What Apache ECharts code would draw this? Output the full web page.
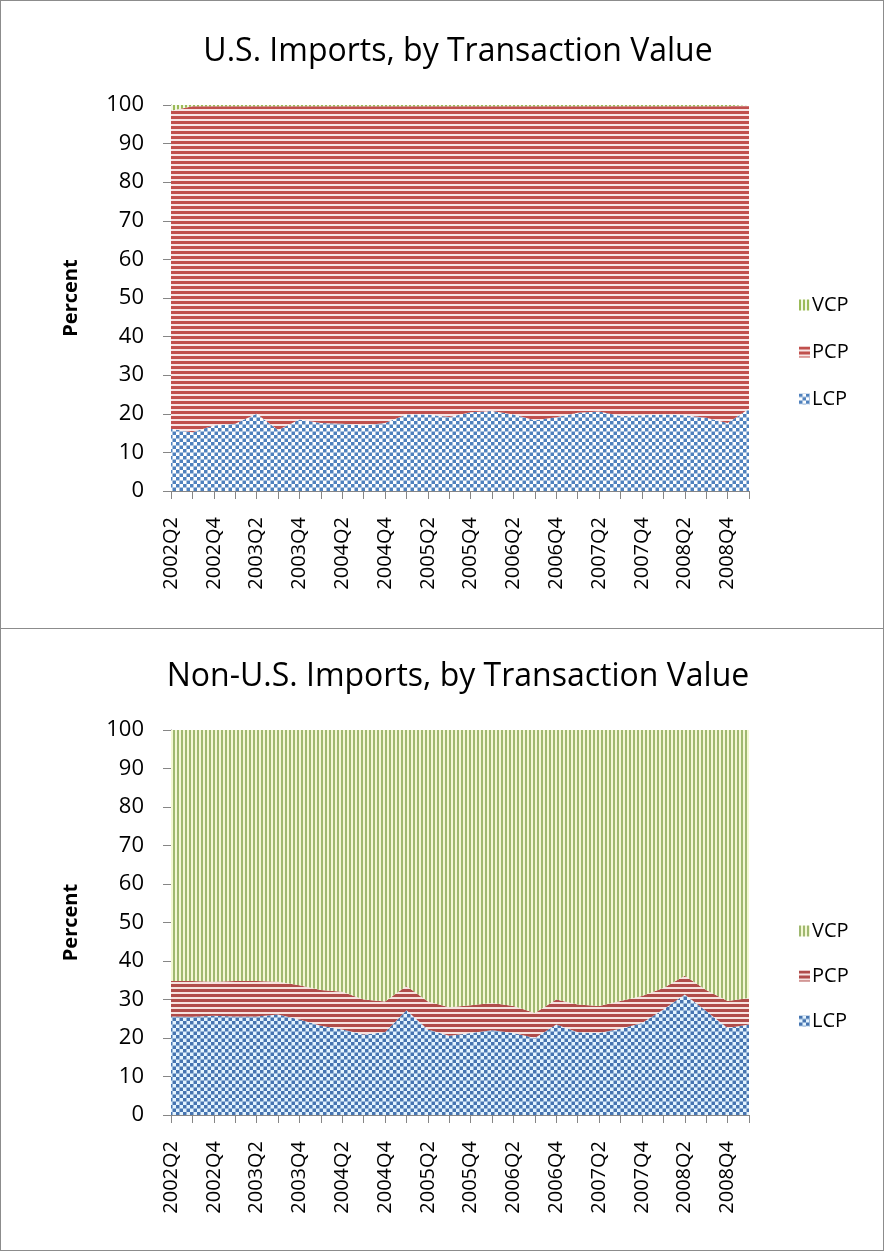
<!DOCTYPE html>
<html lang="en">
<head>
    <meta charset="UTF-8">
    <title>Imports, by Transaction Value</title>
    <script src="https://cdn.jsdelivr.net/npm/echarts@6/dist/echarts.min.js"></script>
    <style>
        html, body { margin: 0; padding: 0; background: #fff; }
        .box { position: absolute; left: 0; width: 884px; border: 1px solid #8c8c8c; box-sizing: border-box; }
        .box > div { width: 100%; height: 100%; }
        #usBox { top: 0; height: 629px; }
        #nonUsBox { top: 628px; height: 623px; }
    </style>
</head>
<body>
    <div class="box" id="usBox"><div id="usChart"></div></div>
    <div class="box" id="nonUsBox"><div id="nonUsChart"></div></div>

<script>
    // quarters 2002Q2 .. 2009Q1
    var quarters = ['2002Q2', '2002Q3', '2002Q4', '2003Q1', '2003Q2', '2003Q3', '2003Q4',
        '2004Q1', '2004Q2', '2004Q3', '2004Q4', '2005Q1', '2005Q2', '2005Q3', '2005Q4',
        '2006Q1', '2006Q2', '2006Q3', '2006Q4', '2007Q1', '2007Q2', '2007Q3', '2007Q4',
        '2008Q1', '2008Q2', '2008Q3', '2008Q4', '2009Q1'];
    var yTicks = [0, 10, 20, 30, 40, 50, 60, 70, 80, 90, 100];

    // U.S. imports (percent)
    var usLCP = [16.1, 15.2, 17.0, 17.4, 20.0, 15.8, 18.5, 17.6, 17.4, 17.0, 17.6, 19.8, 19.8, 19.2,
        20.4, 20.7, 19.8, 18.3, 19.1, 20.3, 20.6, 19.4, 19.6, 19.8, 19.6, 19.0, 17.6, 21.3];
    var usPCP = [82.4, 84.5, 82.7, 82.3, 79.7, 83.9, 81.2, 82.1, 82.3, 82.7, 82.1, 79.9, 79.9, 80.5,
        79.3, 79.0, 79.9, 81.4, 80.6, 79.4, 79.1, 80.3, 80.1, 79.9, 80.1, 80.7, 82.1, 78.4];
    var usVCP = [1.5, 0.3, 0.3, 0.3, 0.3, 0.3, 0.3, 0.3, 0.3, 0.3, 0.3, 0.3, 0.3, 0.3,
        0.3, 0.3, 0.3, 0.3, 0.3, 0.3, 0.3, 0.3, 0.3, 0.3, 0.3, 0.3, 0.3, 0.3];

    // Non-U.S. imports (percent)
    var nonUsLCP = [25.6, 25.5, 25.8, 25.6, 25.6, 26.1, 24.8, 23.2, 22.2, 20.9, 21.5, 27.2, 22.2, 20.6,
        21.3, 22.0, 21.3, 20.0, 23.5, 21.5, 21.3, 22.4, 23.9, 27.4, 31.3, 27.0, 22.6, 23.5];
    var nonUsPCP = [9.2, 9.3, 8.8, 9.2, 9.2, 8.5, 8.9, 9.3, 9.8, 9.1, 8.0, 6.3, 7.3, 7.4,
        7.2, 7.1, 7.0, 6.5, 6.5, 7.2, 7.0, 7.2, 7.0, 5.6, 4.9, 5.5, 7.0, 6.9];
    var nonUsVCP = [65.2, 65.2, 65.4, 65.2, 65.2, 65.4, 66.3, 67.5, 68.0, 70.0, 70.5, 66.5, 70.5, 72.0,
        71.5, 70.9, 71.7, 73.5, 70.0, 71.3, 71.7, 70.4, 69.1, 67.0, 63.8, 67.5, 70.4, 69.6];

    var FONT = '"Open Sans", "DejaVu Sans", sans-serif';

    // fill patterns like the Excel ones
    function makePattern(w, h, bg, fg, draw) {
        var c = document.createElement('canvas');
        c.width = w;
        c.height = h;
        var ctx = c.getContext('2d');
        ctx.fillStyle = bg;
        ctx.fillRect(0, 0, w, h);
        ctx.fillStyle = fg;
        draw(ctx);
        return { image: c, repeat: 'repeat' };
    }
    function checker(bg, fg) {
        return makePattern(7, 7, bg, fg, function (ctx) {
            ctx.fillRect(0, 0, 3.5, 3.5);
            ctx.fillRect(3.5, 3.5, 3.5, 3.5);
        });
    }
    function hStripes(bg, fg) {
        return makePattern(5, 5, bg, fg, function (ctx) { ctx.fillRect(0, 0, 5, 3); });
    }
    function vStripes(bg, fg) {
        return makePattern(4, 4, bg, fg, function (ctx) { ctx.fillRect(0, 0, 2, 4); });
    }

    function areaSeries(name, data, fill) {
        return {
            name: name,
            type: 'line',
            stack: 'total',
            data: data,
            symbol: 'none',
            showSymbol: false,
            silent: true,
            lineStyle: { width: 0 },
            itemStyle: { color: fill },
            areaStyle: { color: fill, opacity: 1 },
            emphasis: { disabled: true }
        };
    }

    function buildOption(title, lcp, pcp, vcp, fills, layout) {
        return {
            animation: false,
            title: {
                text: title,
                left: 452,
                top: layout.titleTop,
                textAlign: 'center',
                textStyle: { fontFamily: FONT, fontSize: 32, fontWeight: 'normal', color: '#000' }
            },
            legend: {
                orient: 'vertical',
                left: 793,
                top: layout.legendTop,
                itemGap: layout.legendGap,
                itemWidth: 11,
                itemHeight: 11,
                icon: 'rect',
                selectedMode: false,
                textStyle: { fontFamily: FONT, fontSize: 20, color: '#000', padding: [0, 0, 0, -3] },
                data: [
                    { name: 'VCP', itemStyle: { color: fills.vcp } },
                    { name: 'PCP', itemStyle: { color: fills.pcp } },
                    { name: 'LCP', itemStyle: { color: fills.lcp } }
                ]
            },
            grid: { left: 170, top: layout.gridTop, width: 578, height: layout.gridHeight },
            xAxis: {
                type: 'category',
                boundaryGap: false,
                data: quarters,
                axisLine: { lineStyle: { color: '#868686', width: 1 } },
                axisTick: { interval: 0, length: 8, lineStyle: { color: '#868686' } },
                axisLabel: {
                    interval: 1,
                    rotate: 90,
                    margin: 26,
                    fontFamily: FONT,
                    fontSize: 20,
                    color: '#000'
                }
            },
            yAxis: {
                type: 'value',
                min: yTicks[0],
                max: yTicks[yTicks.length - 1],
                interval: yTicks[1] - yTicks[0],
                name: 'Percent',
                nameLocation: 'middle',
                nameRotate: 90,
                nameGap: 90,
                nameTextStyle: { fontFamily: FONT, fontSize: 20, fontWeight: 'bold', color: '#000' },
                splitLine: { show: false },
                axisLine: { show: true, lineStyle: { color: '#868686', width: 1 } },
                axisTick: { show: true, length: 8, lineStyle: { color: '#868686' } },
                axisLabel: { margin: 27, fontFamily: FONT, fontSize: 22, color: '#000' }
            },
            series: [
                areaSeries('LCP', lcp, fills.lcp),
                areaSeries('PCP', pcp, fills.pcp),
                areaSeries('VCP', vcp, fills.vcp)
            ]
        };
    }

    var usFills = {
        lcp: checker('#ffffff', '#4f81bd'),
        pcp: hStripes('#f8e6e6', '#c0504d'),
        vcp: vStripes('#f4f8e4', '#9bbb59')
    };
    var nonUsFills = {
        lcp: checker('#e4f4ff', '#4674b0'),
        pcp: hStripes('#f6e2e0', '#b04c4a'),
        vcp: vStripes('#f4f7d4', '#9fb870')
    };

    var usChart = echarts.init(document.getElementById('usChart'));
    usChart.setOption(buildOption('U.S. Imports, by Transaction Value', usLCP, usPCP, usVCP, usFills,
        { titleTop: 30, gridTop: 104, gridHeight: 386, legendTop: 289, legendGap: 27 }));

    var nonUsChart = echarts.init(document.getElementById('nonUsChart'));
    nonUsChart.setOption(buildOption('Non-U.S. Imports, by Transaction Value', nonUsLCP, nonUsPCP, nonUsVCP, nonUsFills,
        { titleTop: 27, gridTop: 101, gridHeight: 385, legendTop: 287, legendGap: 25 }));
</script>
</body>
</html>
